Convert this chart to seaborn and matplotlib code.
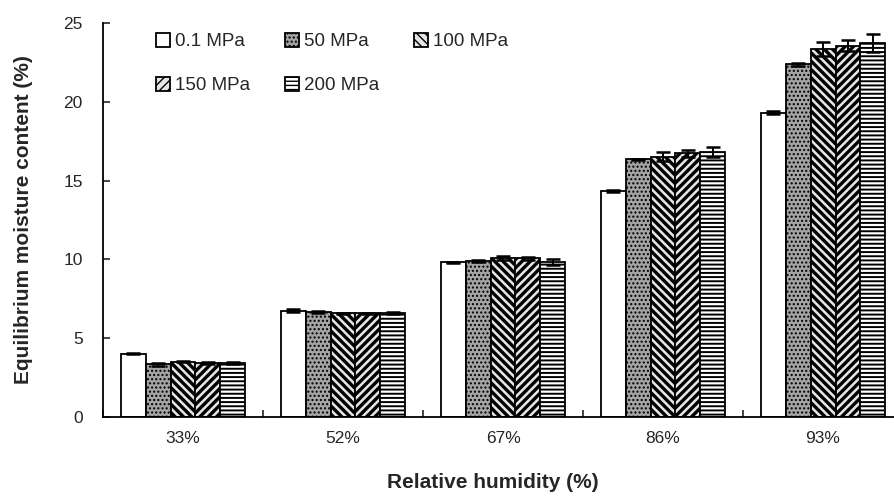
import numpy as np
import pandas as pd
import matplotlib
matplotlib.use('Agg')
import matplotlib.pyplot as plt
import seaborn as sns

humidity = ['33%', '52%', '67%', '86%', '93%']
pressures = ['0.1 MPa', '50 MPa', '100 MPa', '150 MPa', '200 MPa']

# equilibrium moisture content (%) per pressure, in humidity order
emc_01 = [4.02, 6.75, 9.81, 14.34, 19.31]
emc_50 = [3.33, 6.65, 9.90, 16.35, 22.37]
emc_100 = [3.52, 6.57, 10.07, 16.52, 23.35]
emc_150 = [3.42, 6.57, 10.07, 16.73, 23.56]
emc_200 = [3.42, 6.62, 9.85, 16.83, 23.71]

err_01 = [0.05, 0.08, 0.05, 0.08, 0.08]
err_50 = [0.12, 0.05, 0.06, 0.05, 0.12]
err_100 = [0.06, 0.04, 0.12, 0.28, 0.47]
err_150 = [0.05, 0.04, 0.10, 0.21, 0.36]
err_200 = [0.04, 0.06, 0.20, 0.32, 0.57]

values = [emc_01, emc_50, emc_100, emc_150, emc_200]
errors = [err_01, err_50, err_100, err_150, err_200]

df = pd.DataFrame({
    'humidity': np.repeat([humidity], len(pressures), axis=0).ravel(),
    'pressure': np.repeat(pressures, len(humidity)),
    'emc': np.ravel(values),
})

sns.set_style('ticks')
plt.rcParams['font.family'] = ['Liberation Sans', 'DejaVu Sans']

fig = plt.figure(figsize=(8.94, 4.97), dpi=100)
ax = fig.add_axes([0.1152, 0.161, 0.8949, 0.7928])

sns.barplot(data=df, x='humidity', y='emc', hue='pressure', order=humidity,
            hue_order=pressures, width=0.78, errorbar=None, legend=False,
            edgecolor='black', linewidth=1.3, ax=ax)

# facecolor, hatch, hatch linewidth
styles = [('white', '', 1.0), ('#a4a4a4', '....', 1.0),
          ('#e6e6e6', '\\\\\\\\', 2.4), ('#e6e6e6', '////', 2.4),
          ('white', '----', 1.4)]
for cont, (fc, hatch, hlw), err in zip(ax.containers, styles, errors):
    xs = []
    for p in cont.patches:
        p.set_facecolor(fc)
        p.set_hatch(hatch)
        p.set_hatch_linewidth(hlw)
        p.set_edgecolor('black')
        xs.append(p.get_x() + p.get_width() / 2)
    ys = [p.get_height() for p in cont.patches]
    ax.errorbar(xs, ys, yerr=err, fmt='none', ecolor='black',
                elinewidth=1.4, capsize=5, capthick=1.8, zorder=3)

# matplotlib fills legend columns first; reorder so rows read like the original
order = [0, 3, 1, 4, 2]
leg = ax.legend([ax.containers[i] for i in order], [pressures[i] for i in order],
                loc='upper left', ncol=3, frameon=False,
                bbox_to_anchor=(156 / 894, 1 - 33 / 497), bbox_transform=fig.transFigure,
                borderpad=0, borderaxespad=0, handlelength=0.75, handleheight=0.75,
                handletextpad=0.27, columnspacing=1.85, labelspacing=1.42,
                fontsize=13.5)

ax.set_xlim(-0.5, 4.5)
ax.set_ylim(0, 25)
ax.set_yticks([0, 5, 10, 15, 20, 25])
ax.set_xticks(np.arange(-0.5, 5, 1), minor=True)
ax.tick_params(axis='x', which='major', length=0, pad=10, labelsize=12.5)
ax.tick_params(axis='x', which='minor', direction='in', length=5, width=1.2)
ax.tick_params(axis='y', direction='in', length=5, width=1.2, pad=14.5, labelsize=12.5)
for s in ['left', 'bottom']:
    ax.spines[s].set_linewidth(1.3)
    ax.spines[s].set_color('black')
sns.despine(ax=ax, top=True, right=True)

ax.set_xlabel('Relative humidity (%)', fontsize=15, fontweight='bold')
ax.set_ylabel('Equilibrium moisture content (%)', fontsize=15, fontweight='bold')
ax.xaxis.set_label_coords(0.4875, -0.142)
ax.yaxis.set_label_coords(-0.0875, 0.5)

fig.savefig('out.png', dpi=100)
